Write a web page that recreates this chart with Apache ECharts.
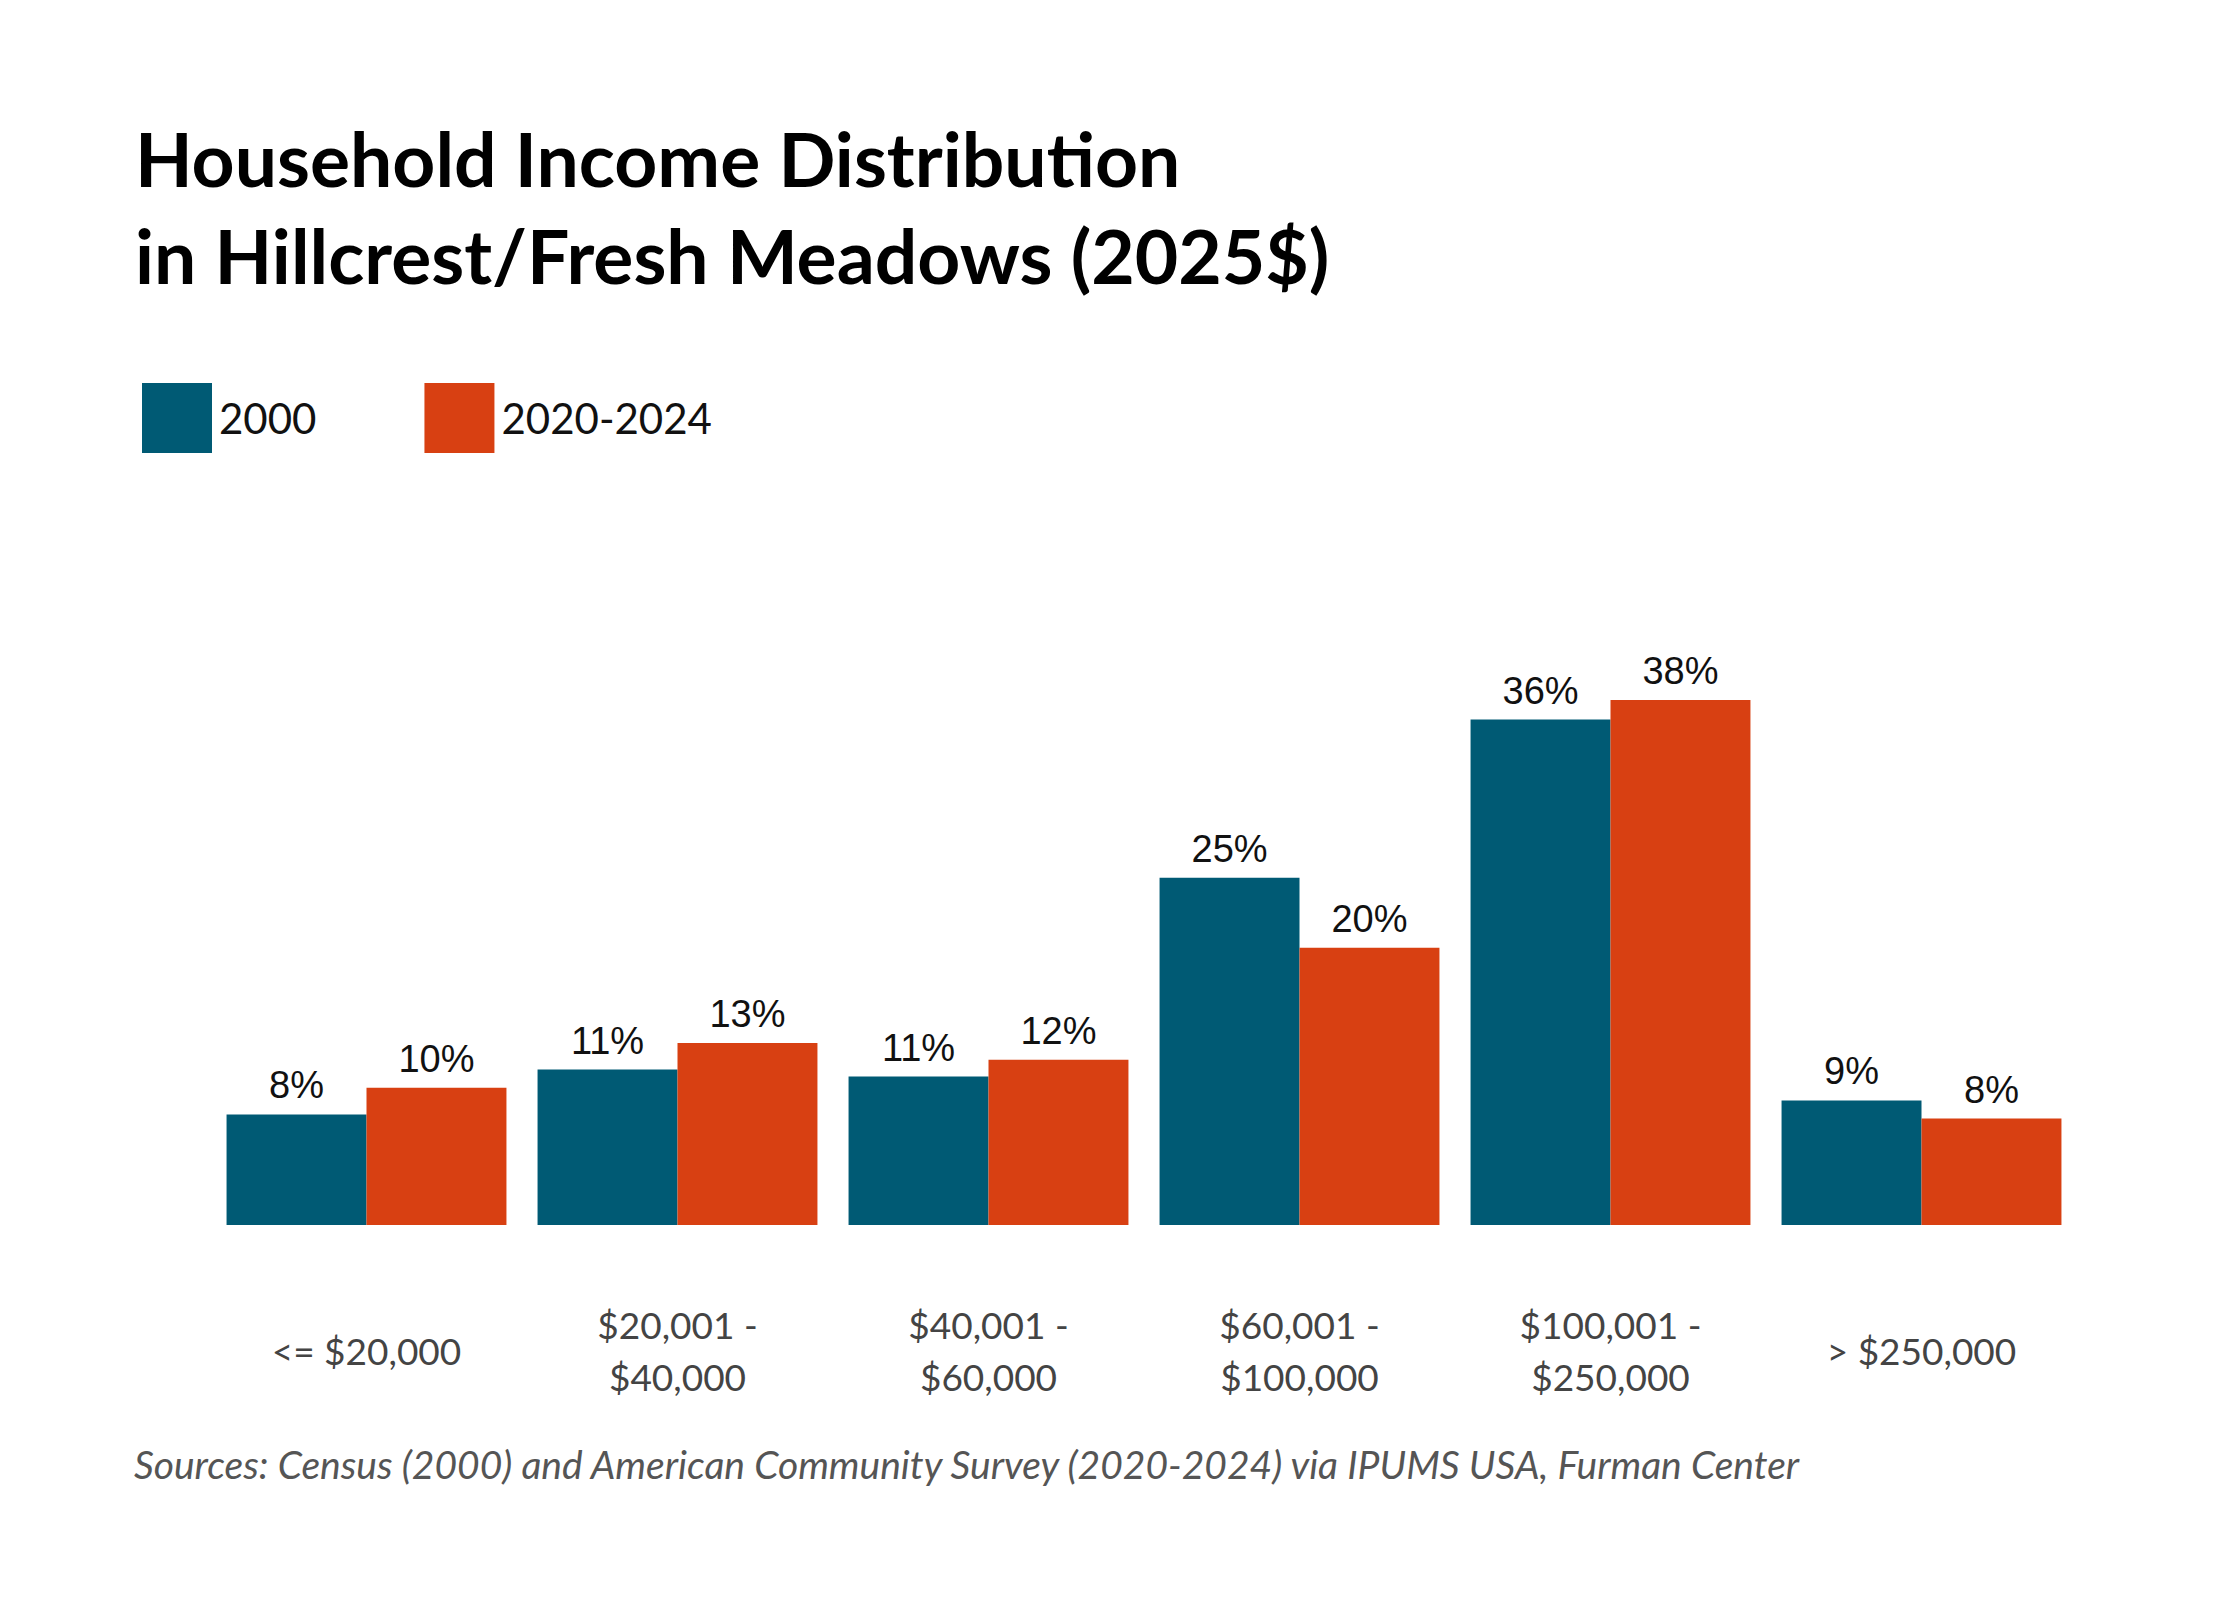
<!DOCTYPE html>
<html lang="en">
<head>
<meta charset="UTF-8">
<title>Household Income Distribution</title>
<script src="https://cdn.jsdelivr.net/npm/echarts@6/dist/echarts.min.js"></script>
<style>
  html, body { margin: 0; padding: 0; background: #fff; }
  #container { width: 2240px; height: 1600px; }
</style>
</head>
<body>
<div id="container"></div>
<script>
// data
const categories = ['<= $20,000', '$20,001 -\n$40,000', '$40,001 -\n$60,000',
  '$60,001 -\n$100,000', '$100,001 -\n$250,000', '> $250,000'];
const values2000 = [7.9, 11.1, 10.6, 24.8, 36.1, 8.9];
const values2020 = [9.8, 13.0, 11.8, 19.8, 37.5, 7.6];
const seriesNames = ['2000', '2020-2024'];
const colors = ['#005a74', '#d84012'];

const labelStyle = {
  show: true,
  position: 'top',
  distance: 10,
  color: '#111',
  fontFamily: 'Liberation Sans',
  fontSize: 38,
  formatter: p => Math.round(p.value) + '%'
};

const chart = echarts.init(document.getElementById('container'), null, { renderer: 'svg' });
chart.setOption({
  backgroundColor: '#fff',
  animation: false,
  title: {
    text: 'Household Income Distribution\nin Hillcrest/Fresh Meadows (2025$)',
    left: 130,
    top: 104,
    textStyle: { fontFamily: 'Lato', fontWeight: 'bold', fontSize: 75, lineHeight: 97, color: '#000' }
  },
  legend: {
    left: 137,
    top: 378,
    itemWidth: 70,
    itemHeight: 70,
    itemGap: 108,
    icon: 'rect',
    textStyle: { fontFamily: 'Lato', fontSize: 42, color: '#111', padding: [0, 0, 0, 2] },
    data: seriesNames
  },
  grid: { left: 211, right: 163, top: 665, bottom: 375 },
  xAxis: {
    type: 'category',
    data: categories,
    axisLine: { show: false },
    axisTick: { show: false },
    axisLabel: {
      margin: 125,
      verticalAlign: 'middle',
      color: '#444',
      fontFamily: 'Lato',
      fontSize: 37,
      lineHeight: 52
    }
  },
  yAxis: { type: 'value', min: 0, max: 40, show: false, splitLine: { show: false } },
  series: [
    { name: seriesNames[0], type: 'bar', data: values2000, barGap: 0, barCategoryGap: '10%',
      itemStyle: { color: colors[0] }, label: labelStyle },
    { name: seriesNames[1], type: 'bar', data: values2020, barGap: 0, barCategoryGap: '10%',
      itemStyle: { color: colors[1] }, label: labelStyle }
  ],
  graphic: [{
    type: 'text',
    left: 134,
    top: 1444,
    style: {
      text: 'Sources: Census (2000) and American Community Survey (2020-2024) via IPUMS USA, Furman Center',
      fontFamily: 'Lato',
      fontStyle: 'italic',
      fontSize: 39,
      fill: '#555'
    }
  }]
});
</script>
</body>
</html>
